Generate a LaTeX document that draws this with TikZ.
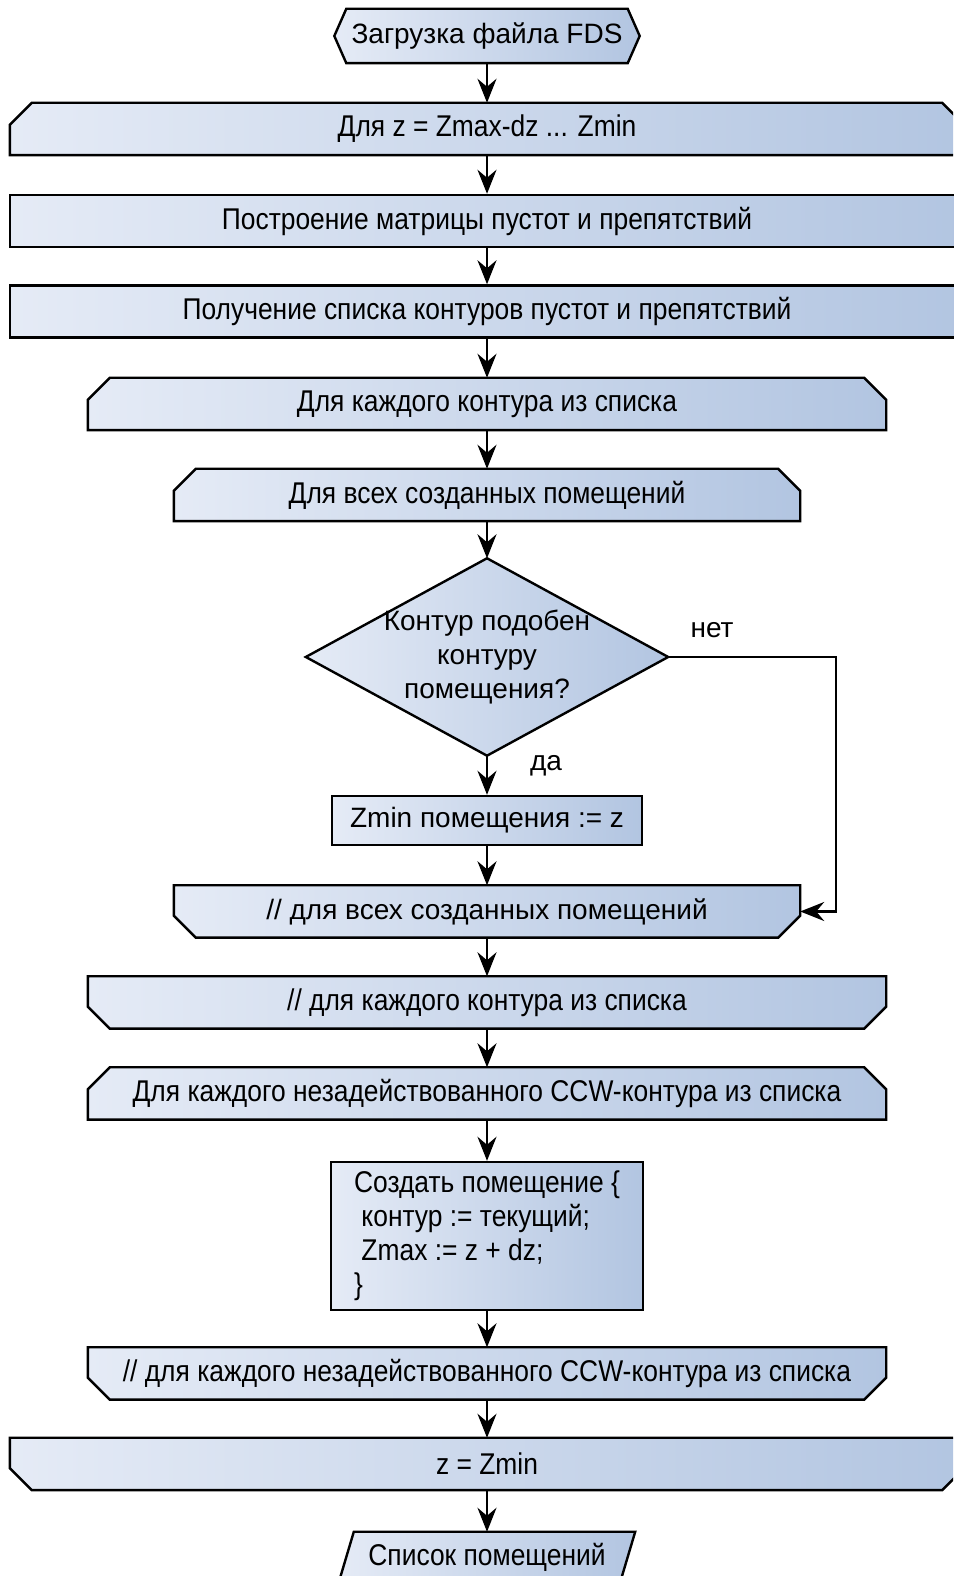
\documentclass[tikz,border=0pt]{standalone}
\usepackage{fontspec}
\setmainfont{Liberation Sans}
\newfontfamily\narrowfont[FakeStretch=0.88]{Liberation Sans}
\usepackage{tikz}
\usetikzlibrary{
    arrows.meta,
    calc,
    backgrounds,
    positioning
}
\definecolor{boxl}{RGB}{229,235,246}
\definecolor{boxr}{RGB}{178,197,225}

\tikzset{
    blk/.style={rectangle, inner sep=0pt, align=center, font=\narrowfont\fontsize{30}{34}\selectfont},
    reg/.style={rectangle, inner sep=0pt, align=center, font=\fontsize{28}{34}\selectfont},
    wide/.style={blk, minimum width=954, minimum height=52},
    mid/.style={blk, minimum width=798, minimum height=52},
    shd/.style={draw=black, line width=2.4pt, left color=boxl, right color=boxr},
    arr/.style={line width=2.3pt, -{Stealth[length=24pt, width=19pt, inset=8pt]}}
}

\begin{document}
\begin{tikzpicture}[x=1pt, y=1pt]
    \useasboundingbox (0,0) rectangle (953,1576);

    % blocks
    \node[reg, minimum width=305, minimum height=54] (start) at (487,1540) {Загрузка файла FDS};
    \node[wide] (loopA) at (487,1447) {Для z = Zmax-dz ... Zmin};
    \node[wide, shd] (boxA) at (487,1355) {Построение матрицы пустот и препятствий};
    \node[wide, shd] (boxB) at (487,1264.5) {Получение списка контуров пустот и препятствий};
    \node[mid] (loopB) at (487,1172) {Для каждого контура из списка};
    \node[blk, minimum width=626, minimum height=52] (loopC) at (487,1081) {Для всех созданных помещений};
    \node[reg, minimum width=362, minimum height=197] (cond) at (487,919) {Контур подобен\\контуру\\помещения?};
    \node[reg, shd, minimum width=310, minimum height=49] (zmin) at (487,755.5) {Zmin помещения := z};
    \node[reg, minimum width=626, minimum height=52] (endC) at (487,664.5) {// для всех созданных помещений};
    \node[mid] (endB) at (487,573.5) {// для каждого контура из списка};
    \node[mid] (loopD) at (487,482.5) {Для каждого незадействованного CCW-контура из списка};
    \node[blk, shd, align=left, minimum width=312, minimum height=148] (make) at (487,340)
        {Создать помещение \{\\~контур := текущий;\\~Zmax := z + dz;\\\}};
    \node[mid] (endD) at (487,202.5) {// для каждого незадействованного CCW-контура из списка};
    \node[wide] (endA) at (487,112) {z = Zmin};
    \node[blk, minimum width=296, minimum height=50] (out) at (487,19) {Список помещений};

    % labels
    \node[reg] (no) at (712,946) {нет};
    \node[reg] (yes) at (546,810) {да};

    % outlines
    \begin{scope}[on background layer]
        \clip (0,0) rectangle (953,1576);
        \foreach \n in {loopA,loopB,loopC,loopD} {
            \path[shd] (\n.south west) -- ($(\n.north west)+(0,-22)$) -- ($(\n.north west)+(22,0)$)
                -- ($(\n.north east)+(-22,0)$) -- ($(\n.north east)+(0,-22)$) -- (\n.south east) -- cycle;
        }
        \foreach \n in {endA,endB,endC,endD} {
            \path[shd] (\n.north west) -- (\n.north east) -- ($(\n.south east)+(0,22)$)
                -- ($(\n.south east)+(-22,0)$) -- ($(\n.south west)+(22,0)$) -- ($(\n.south west)+(0,22)$) -- cycle;
        }
        \path[shd] (start.west) -- ($(start.north west)+(12,0)$) -- ($(start.north east)+(-12,0)$)
            -- (start.east) -- ($(start.south east)+(-12,0)$) -- ($(start.south west)+(12,0)$) -- cycle;
        \path[shd] (cond.north) -- (cond.east) -- (cond.south) -- (cond.west) -- cycle;
        \path[shd] ($(out.north west)+(15,0)$) -- (out.north east) -- ($(out.south east)+(-15,0)$)
            -- (out.south west) -- cycle;
    \end{scope}

    % connectors
    \draw[arr] (start) -- (loopA);
    \draw[arr] (loopA) -- (boxA);
    \draw[arr] (boxA) -- (boxB);
    \draw[arr] (boxB) -- (loopB);
    \draw[arr] (loopB) -- (loopC);
    \draw[arr] (loopC) -- (cond);
    \draw[arr] (cond) -- (zmin);
    \draw[arr] (zmin) -- (endC);
    \coordinate (bend) at (836,919);
    \draw[arr] (cond.east) -- (bend) |- (endC.east);
    \draw[arr] (endC) -- (endB);
    \draw[arr] (endB) -- (loopD);
    \draw[arr] (loopD) -- (make);
    \draw[arr] (make) -- (endD);
    \draw[arr] (endD) -- (endA);
    \draw[arr] (endA) -- (out);
\end{tikzpicture}
\end{document}
